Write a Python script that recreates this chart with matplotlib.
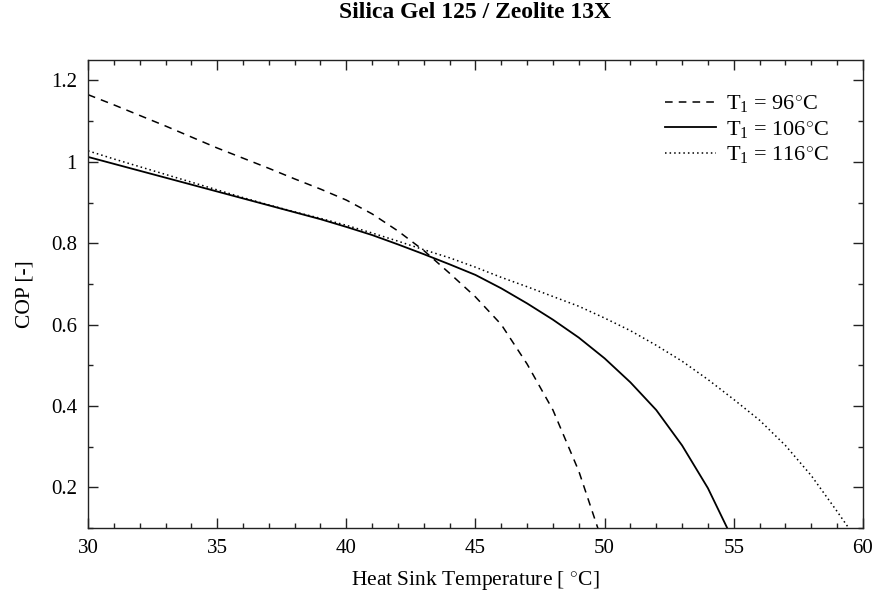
import numpy as np
from matplotlib import pyplot as plt
from matplotlib.ticker import MultipleLocator

plt.rcParams['font.family'] = ['Liberation Serif', 'DejaVu Serif']
plt.rcParams['mathtext.fontset'] = 'custom'
plt.rcParams['mathtext.rm'] = 'Liberation Serif'
plt.rcParams['mathtext.it'] = 'Liberation Serif:italic'

# heat sink temperature [C]
T_sink = np.arange(30, 61)

# COP for each regeneration temperature T1
cop_96 = [1.165, 1.140, 1.114, 1.088, 1.061, 1.034, 1.009, 0.984, 0.958, 0.933,
          0.906, 0.872, 0.830, 0.782, 0.726, 0.668, 0.600, 0.503, 0.390, 0.240,
          0.050]
cop_106 = [1.012, 0.995, 0.978, 0.961, 0.944, 0.927, 0.910, 0.893, 0.876, 0.859,
           0.840, 0.820, 0.797, 0.773, 0.748, 0.722, 0.689, 0.652, 0.612, 0.568,
           0.517, 0.458, 0.390, 0.303, 0.198, 0.067]
cop_116 = [1.027, 1.007, 0.988, 0.969, 0.950, 0.931, 0.912, 0.894, 0.877, 0.861,
           0.844, 0.825, 0.805, 0.784, 0.764, 0.741, 0.716, 0.693, 0.669, 0.645,
           0.616, 0.585, 0.549, 0.510, 0.465, 0.416, 0.365, 0.303, 0.229, 0.141,
           0.050]

labels = [r'T$_1$ = 96$^{\circ}$C', r'T$_1$ = 106$^{\circ}$C', r'T$_1$ = 116$^{\circ}$C']
yticks = [0.2, 0.4, 0.6, 0.8, 1.0, 1.2]
ytick_labels = ['0.2', '0.4', '0.6', '0.8', '1', '1.2']

fig = plt.figure(figsize=(8.76, 5.95), dpi=100)
ax = fig.add_axes([0.1005, 0.1126, 0.8845, 0.7864])

ax.plot(T_sink[:len(cop_96)], cop_96, color='black', lw=1.1, ls=(0, (5, 4)), label=labels[0])
ax.plot(T_sink[:len(cop_106)], cop_106, color='black', lw=1.3, ls='-', label=labels[1])
ax.plot(T_sink[:len(cop_116)], cop_116, color='black', lw=1.1, ls=(0, (1, 2)), label=labels[2])

ax.set_xlim(30, 60)
ax.set_ylim(0.1, 1.25)
ax.xaxis.set_major_locator(MultipleLocator(5))
ax.xaxis.set_minor_locator(MultipleLocator(1))
ax.set_yticks(yticks)
ax.set_yticklabels(ytick_labels)
ax.yaxis.set_minor_locator(MultipleLocator(0.1))
ax.tick_params(which='both', direction='in', top=True, right=True, labelsize=15,
               color='#222222', width=1.0)
ax.tick_params(which='major', length=7, pad=8)
ax.tick_params(which='minor', length=3.5)
for s in ax.spines.values():
    s.set_linewidth(1.0)
    s.set_color('#222222')

ax.set_xlabel(r'Heat Sink Temperature [ $^{\circ}$C]', fontsize=15.5, labelpad=8)
ax.set_ylabel('COP [-]', fontsize=15.5, labelpad=12)
ax.set_title('Silica Gel 125 / Zeolite 13X', fontsize=17, fontweight='bold', pad=30)

ax.legend(loc='upper right', frameon=False, fontsize=16, handlelength=2.3,
          handletextpad=0.45, labelspacing=0.2, borderaxespad=1.2,
          borderpad=0.3)

plt.savefig('out.png', dpi=100)
